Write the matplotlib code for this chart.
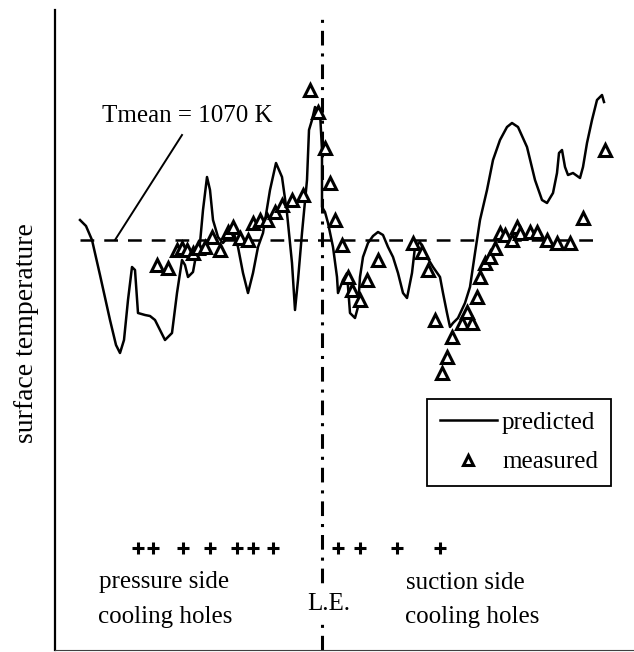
import numpy as np
import matplotlib.pyplot as plt

plt.rcParams['font.family'] = ['Liberation Serif', 'DejaVu Serif']

# surface coordinate (leading edge at 0, pressure side < 0, arbitrary units)
s_pred = [-242, -236, -230, -222, -212, -206, -202, -198, -194, -190, -187, -184,
          -177, -172, -167, -162, -157, -150, -145, -140, -137, -134, -129, -125,
          -122, -119, -115, -112, -109, -104, -99, -94, -89, -84, -79, -74, -69,
          -64, -59, -52, -46, -40, -35, -30, -27, -24, -20, -15, -13, -10, -7, -4,
          -2, 0, 0, 3, 6, 11, 15, 16, 21, 25, 28, 33, 36, 38, 41, 46, 51, 56, 61,
          66, 71, 76, 81, 85, 90, 93, 98, 105, 111, 118, 121, 125, 128, 131, 136,
          143, 148, 153, 158, 165, 171, 178, 185, 190, 196, 205, 213, 220, 225,
          231, 235, 237, 240, 243, 246, 251, 258, 261, 265, 270, 275, 280, 282]
T_pred = [1090, 1084, 1070, 1035, 990, 965, 957, 970, 1010, 1043, 1040, 997,
          995, 994, 990, 980, 970, 977, 1017, 1050, 1045, 1033, 1038, 1060,
          1067, 1100, 1133, 1120, 1090, 1073, 1067, 1073, 1080, 1063, 1037, 1017, 1037,
          1063, 1077, 1120, 1147, 1133, 1097, 1047, 1000, 1030, 1077, 1130, 1180, 1190, 1203, 1200,
          1198, 1160, 1103, 1098, 1087, 1063, 1033, 1017, 1030, 1037, 997, 992, 1003, 1033, 1053, 1067, 1074, 1078, 1075,
          1063, 1053, 1037, 1017, 1012, 1037, 1063, 1068, 1053, 1043, 1033, 1017, 997, 983, 987, 992,
          1007, 1023, 1057, 1090, 1120, 1150, 1170, 1183, 1187, 1183, 1163, 1130, 1110, 1107,
          1117, 1137, 1157, 1160, 1143, 1135, 1137, 1132, 1143, 1167, 1190, 1210, 1215, 1208]

s_meas = [-165, -154, -145, -140, -135, -129, -124, -117, -110, -102, -94, -89, -82,
          -74, -69, -62, -55, -47, -40, -30, -19, -12, -4, 3, 8, 13, 20, 26, 30, 38,
          45, 56, 91, 100, 106, 113, 120, 125, 130, 140, 145, 150, 155, 158, 163,
          168, 173, 178, 183, 190, 195, 198, 208, 215, 225, 235, 248, 261, 283]
T_meas = [1045, 1042, 1060, 1062, 1060, 1057, 1062, 1063, 1073, 1060, 1078, 1083, 1072,
          1070, 1087, 1090, 1090, 1098, 1105, 1110, 1115, 1220, 1198, 1162, 1127, 1090, 1065, 1033, 1020, 1010,
          1030, 1050, 1067, 1058, 1040, 990, 937, 953, 973, 987, 998, 987, 1013, 1033, 1047,
          1053, 1062, 1077, 1075, 1070, 1083, 1077, 1078, 1078, 1070, 1067, 1067, 1092, 1160]

# cooling hole positions
s_holes_ps = [-184, -169, -139, -112, -85, -69, -49]
s_holes_ss = [16, 38, 75, 118]
T_holes = 762

T_mean = 1070

fig = plt.figure(figsize=(6.34, 6.52), dpi=100)
ax = fig.add_axes([55 / 634, 2 / 652, 579 / 634, 640 / 652])
ax.set_xlim(-267, 312)
ax.set_ylim(660, 1300)
ax.set_xticks([])
ax.set_yticks([])
ax.spines['top'].set_visible(False)
ax.spines['right'].set_visible(False)
ax.spines['left'].set_linewidth(1.6)
ax.spines['bottom'].set_linewidth(0.8)
ax.spines['bottom'].set_color('0.25')

# mean temperature and leading edge
ax.plot([-242, 280], [T_mean, T_mean], color='black', lw=1.8, dashes=(5.5, 4))
ax.axvline(0, ymax=0.997, color='black', lw=2.2, linestyle=(0, (4.8, 2.6, 1, 2.6)))

ax.plot(s_pred, T_pred, color='black', lw=1.8, label='predicted')
ax.plot(s_meas, T_meas, ls='none', marker='^', ms=9, mfc='white', mec='black',
        mew=2.2, label='measured')

ax.plot(s_holes_ps + s_holes_ss, [T_holes] * 11, ls='none', marker='+',
        ms=9, mew=2.2, color='black')

fs = 18
ax.text(-220, 1188, 'Tmean = 1070 K', fontsize=fs, ha='left', va='baseline')
ax.plot([-207, -140], [T_mean, 1175], color='black', lw=1.4)

ax.text(-223, 722, 'pressure side', fontsize=fs, ha='left', va='baseline')
ax.text(-224, 687, 'cooling holes', fontsize=fs, ha='left', va='baseline')
ax.text(84, 721, 'suction side', fontsize=fs, ha='left', va='baseline')
ax.text(83, 687, 'cooling holes', fontsize=fs, ha='left', va='baseline')
ax.text(7, 700, 'L.E.', fontsize=fs, ha='center', va='baseline',
        bbox=dict(facecolor='white', edgecolor='none', pad=1.5))

ax.set_ylabel('surface temperature', fontsize=20)
ax.yaxis.set_label_coords(-0.028, 0.495)

leg = ax.legend(loc='upper left', bbox_to_anchor=(427 / 634, 1 - 399 / 652),
                bbox_transform=fig.transFigure, borderaxespad=0, fontsize=fs,
                handlelength=2.3, handletextpad=0.2, borderpad=0.5,
                labelspacing=0.68, fancybox=False, framealpha=1,
                edgecolor='black', numpoints=1, markerscale=0.8)
leg.get_frame().set_linewidth(1.3)

fig.savefig('out.png', dpi=100)
